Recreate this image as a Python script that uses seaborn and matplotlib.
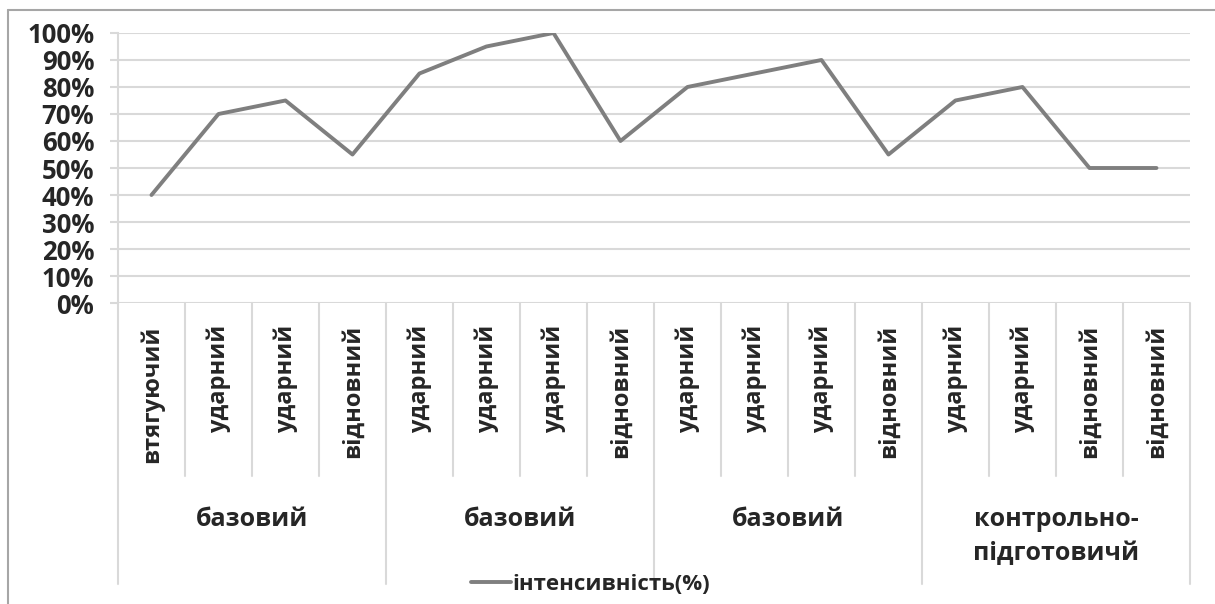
#import required libraries
import numpy as np
import pandas as pd
import seaborn as sns
import matplotlib.pyplot as plt
from matplotlib.lines import Line2D

# chart data
phases = ["базовий", "базовий", "базовий", "контрольно-\nпідготовичй"]
microcycles = ["втягуючий", "ударний", "ударний", "відновний",
               "ударний", "ударний", "ударний", "відновний",
               "ударний", "ударний", "ударний", "відновний",
               "ударний", "ударний", "відновний", "відновний"]
phase_sizes = [4, 4, 4, 4]
intensity = [40, 70, 75, 55, 85, 95, 100, 60, 80, 85, 90, 55, 75, 80, 50, 50]
y_ticks = [0, 10, 20, 30, 40, 50, 60, 70, 80, 90, 100]
series_name = "інтенсивність(%)"

sns.set_theme(style="white")
plt.rcParams['font.family'] = ['Open Sans', 'DejaVu Sans']

grid_color = "#d9d9d9"
line_color = "#7f7f7f"

df = pd.DataFrame({"pos": np.arange(len(intensity)) + 0.5, "value": intensity})

fig = plt.figure(figsize=(12.15, 6.04), dpi=100)
ax = fig.add_axes([0.0971, 0.4983, 0.8823, 0.4471])

sns.lineplot(data=df, x="pos", y="value", ax=ax, color=line_color,
             linewidth=2.8, label=series_name)

ax.set_xlim(0, len(intensity))
ax.set_ylim(0, 100)
ax.set_yticks(y_ticks)
ax.set_yticklabels([f"{t}%" for t in y_ticks], fontsize=18.5, fontweight="bold")
ax.yaxis.grid(True, color=grid_color, linewidth=1.5)
ax.set_axisbelow(True)
ax.tick_params(axis="y", length=6, color=grid_color, width=1.5, pad=11, left=True)

# category tick labels
ax.set_xticks(df["pos"])
ax.set_xticklabels(microcycles, rotation=90, va="top", fontsize=17,
                   fontweight="bold")
ax.tick_params(axis="x", length=0, pad=16)
ax.set_xlabel("")
ax.set_ylabel("")

for side in ["top", "right", "bottom"]:
    ax.spines[side].set_visible(False)
ax.spines["left"].set_color(grid_color)
ax.spines["left"].set_linewidth(1.5)

# separators between categories and groups
trans = ax.get_xaxis_transform()
edges = np.cumsum([0] + phase_sizes)
for i in range(len(intensity) + 1):
    if i in edges:
        ax.plot([i, i], [0, -1.04], transform=trans, color=grid_color,
                linewidth=1.5, clip_on=False)
    else:
        ax.plot([i, i], [0, -0.64], transform=trans, color=grid_color,
                linewidth=1.5, clip_on=False)

# group labels
for k, name in enumerate(phases):
    center = (edges[k] + edges[k + 1]) / 2
    ax.text(center, -0.755, name, transform=trans, ha="center", va="top",
            fontsize=18, fontweight="bold", linespacing=1.5)

# legend at the bottom
leg = ax.legend(loc="center", bbox_to_anchor=(0.486, 0.033),
                bbox_transform=fig.transFigure, frameon=False,
                prop={"size": 16, "weight": "bold"}, handlelength=1.8,
                handletextpad=0.1)

# outer chart border
fig.add_artist(Line2D([8 / 1215, 1], [1 - 10 / 604, 1 - 10 / 604],
                      transform=fig.transFigure, color="#a6a6a6", linewidth=1.5))
fig.add_artist(Line2D([8 / 1215, 8 / 1215], [0, 1 - 10 / 604],
                      transform=fig.transFigure, color="#a6a6a6", linewidth=1.5))

plt.savefig("out.png", dpi=100)
plt.close()
